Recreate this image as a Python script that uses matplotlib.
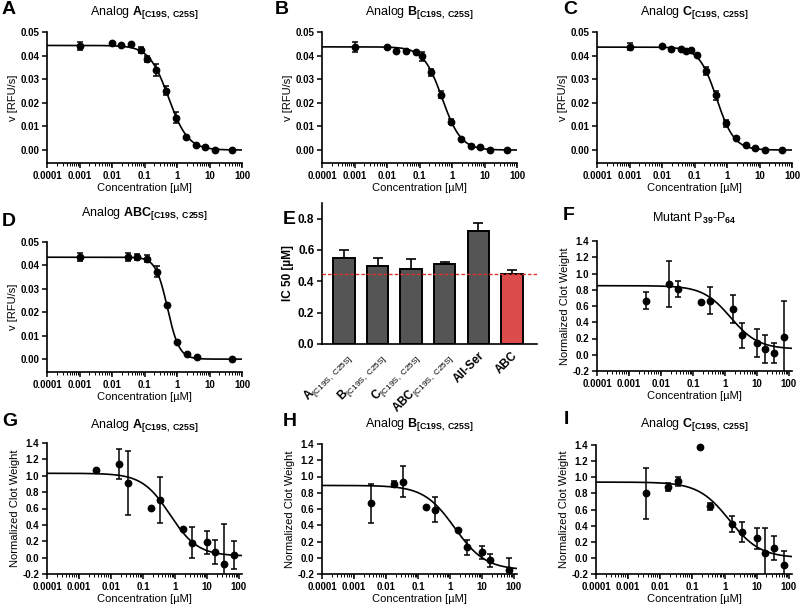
import matplotlib
matplotlib.use('Agg')
import matplotlib.pyplot as plt
import numpy as np

plt.rcParams['font.family'] = ['Liberation Sans', 'DejaVu Sans']
plt.rcParams['mathtext.fontset'] = 'custom'
plt.rcParams['mathtext.rm'] = 'Liberation Sans'
plt.rcParams['mathtext.bf'] = 'Liberation Sans:bold'
plt.rcParams['mathtext.it'] = 'Liberation Sans:italic'

# ---- enzyme assay data (panels A-D) ----
conc_AB = [0.001, 0.0098, 0.0195, 0.039, 0.078, 0.117, 0.234, 0.469, 0.938, 1.875, 3.75, 7.5, 15, 50]
A_v = [0.0442, 0.0452, 0.0443, 0.0448, 0.0425, 0.0385, 0.0338, 0.0252, 0.0137, 0.0055, 0.0020, 0.0011, 0.0, 0.0]
A_err = [0.0017, 0, 0, 0, 0.0012, 0.0012, 0.0025, 0.0018, 0.0022, 0, 0, 0, 0, 0]
B_v = [0.0437, 0.0438, 0.0420, 0.0418, 0.0414, 0.0397, 0.0330, 0.0234, 0.0120, 0.0047, 0.0018, 0.0011, 0.0, 0.0]
B_err = [0.002, 0, 0, 0, 0, 0.002, 0.0015, 0.0015, 0.001, 0, 0, 0, 0, 0]
conc_C = [0.001, 0.0098, 0.0195, 0.039, 0.056, 0.078, 0.117, 0.234, 0.469, 0.938, 1.875, 3.75, 7.5, 15, 50]
C_v = [0.0438, 0.0439, 0.0429, 0.0429, 0.0418, 0.0424, 0.0404, 0.0334, 0.0231, 0.0113, 0.0050, 0.0020, 0.0007, 0.0001, 0.0]
C_err = [0.0015, 0, 0, 0, 0, 0, 0, 0.0018, 0.0018, 0.0015, 0, 0, 0, 0, 0]
conc_D = [0.001, 0.03, 0.059, 0.12, 0.245, 0.5, 1.0, 2.0, 4.0, 50]
D_v = [0.0436, 0.0436, 0.0436, 0.0429, 0.0374, 0.0229, 0.0071, 0.0021, 0.0010, 0.0]
D_err = [0.0015, 0.0015, 0.0013, 0.0015, 0.0025, 0, 0, 0, 0, 0]

# fit parameters (top, bottom, IC50, hill)
fit_A = (0.0443, 0.0, 0.55, 1.45)
fit_B = (0.0437, 0.0, 0.50, 1.5)
fit_C = (0.0436, 0.0, 0.48, 1.6)
fit_D = (0.0435, 0.0, 0.51, 2.4)

# ---- IC50 bar chart (panel E) ----
E_labels = [r'$\mathbf{A}_{\mathrm{[C19S,\ C25S]}}$', r'$\mathbf{B}_{\mathrm{[C19S,\ C25S]}}$',
            r'$\mathbf{C}_{\mathrm{[C19S,\ C25S]}}$', r'$\mathbf{ABC}_{\mathrm{[C19S,\ C25S]}}$',
            'All-Ser', 'ABC']
E_ic50 = [0.55, 0.50, 0.48, 0.51, 0.72, 0.45]
E_err = [0.05, 0.05, 0.06, 0.015, 0.05, 0.025]
E_colors = ['#555555'] * 5 + ['#dc4c4c']
E_ref = 0.45

# ---- clot weight data (panels F-I) ----
conc_clot = [0.0035, 0.0175, 0.035, 0.175, 0.35, 1.75, 3.5, 10, 17.5, 35, 70]
F_w = [0.667, 0.875, 0.81, 0.655, 0.667, 0.565, 0.237, 0.143, 0.074, 0.02, 0.217]
F_err = [0.11, 0.285, 0.095, 0, 0.17, 0.175, 0.155, 0.175, 0.17, 0.12, 0.44]
G_w = [1.07, 1.143, 0.914, 0.604, 0.706, 0.355, 0.184, 0.19, 0.069, -0.073, 0.029]
G_err = [0, 0.18, 0.39, 0, 0.28, 0, 0.19, 0.14, 0.15, 0.48, 0.17]
conc_H = [0.0035, 0.0175, 0.035, 0.175, 0.35, 1.75, 3.5, 10, 17.5, 70]
H_w = [0.672, 0.91, 0.934, 0.627, 0.59, 0.336, 0.127, 0.07, -0.033, -0.148]
H_err = [0.24, 0.035, 0.19, 0, 0.155, 0, 0.095, 0.08, 0.08, 0.14]
I_w = [0.80, 0.88, 0.95, 1.38, 0.64, 0.415, 0.32, 0.245, 0.066, 0.124, -0.09]
I_err = [0.32, 0.045, 0.055, 0, 0.04, 0.1, 0.125, 0.13, 0.3, 0.15, 0.17]

fit_F = (0.85, 0.07, 1.5, 1.0)
fit_G = (1.03, 0.02, 0.7, 1.0)
fit_H = (0.89, -0.15, 1.4, 0.9)
fit_I = (0.94, 0.0, 1.4, 0.9)

W, H = 800, 606
fig = plt.figure(figsize=(W / 100, H / 100), dpi=100)


def box(l, t, r, b):
    return [l / W, 1 - b / H, (r - l) / W, (b - t) / H]


def style(ax, tick_fs=7):
    for s in ['top', 'right']:
        ax.spines[s].set_visible(False)
    for s in ['left', 'bottom']:
        ax.spines[s].set_linewidth(1.2)
    ax.tick_params(which='major', direction='out', length=3.5, width=1.1, labelsize=tick_fs, pad=2)
    ax.tick_params(which='minor', direction='out', length=1.8, width=0.7)
    for lab in ax.get_xticklabels() + ax.get_yticklabels():
        lab.set_fontweight('bold')


def dose_panel(ax, conc, vals, err, fit, xmax, ylim, yticks, yfmt, ylabel):
    conc = np.array(conc)
    vals = np.array(vals)
    err = np.array(err)
    xs = np.logspace(-4, np.log10(xmax), 300)
    top, bot, ic50, hill = fit
    ax.plot(xs, bot + (top - bot) / (1 + (xs / ic50) ** hill), color='black', lw=1.2)
    m = err > 0
    ax.errorbar(conc[m], vals[m], yerr=err[m], fmt='none', ecolor='black', elinewidth=1.1,
                capsize=2.4, capthick=1.1)
    ax.plot(conc, vals, 'o', color='black', ms=4.6, clip_on=False)
    ax.set_xscale('log')
    ax.set_xlim(1e-4, xmax)
    ax.set_ylim(*ylim)
    ax.set_xticks([1e-4, 1e-3, 1e-2, 1e-1, 1, 10, 100])
    ax.set_xticklabels(['0.0001', '0.001', '0.01', '0.1', '1', '10', '100'])
    ax.xaxis.set_minor_locator(matplotlib.ticker.LogLocator(base=10, subs=np.arange(2, 10), numticks=20))
    ax.xaxis.set_minor_formatter(matplotlib.ticker.NullFormatter())
    ax.set_yticks(yticks)
    ax.set_yticklabels([yfmt.format(t) for t in yticks])
    ax.set_xlabel('Concentration [µM]', fontsize=8, labelpad=1.5)
    ax.set_ylabel(ylabel, fontsize=8, labelpad=2)
    style(ax)


enz_ylim = (-0.0055, 0.05)
enz_ticks = [0.0, 0.01, 0.02, 0.03, 0.04, 0.05]
clot_ylim = (-0.2, 1.4)
clot_ticks = [-0.2, 0.0, 0.2, 0.4, 0.6, 0.8, 1.0, 1.2, 1.4]

axA = fig.add_axes(box(47, 32, 242, 163))
dose_panel(axA, conc_AB, A_v, A_err, fit_A, 100, enz_ylim, enz_ticks, '{:.2f}', 'v [RFU/s]')
axB = fig.add_axes(box(322, 32, 517, 163))
dose_panel(axB, conc_AB, B_v, B_err, fit_B, 100, enz_ylim, enz_ticks, '{:.2f}', 'v [RFU/s]')
axC = fig.add_axes(box(597, 32, 792, 163))
dose_panel(axC, conc_C, C_v, C_err, fit_C, 100, enz_ylim, enz_ticks, '{:.2f}', 'v [RFU/s]')
axD = fig.add_axes(box(47, 242, 242, 372))
dose_panel(axD, conc_D, D_v, D_err, fit_D, 100, enz_ylim, enz_ticks, '{:.2f}', 'v [RFU/s]')

axF = fig.add_axes(box(597, 241, 792, 371))
dose_panel(axF, conc_clot, F_w, F_err, fit_F, 125, clot_ylim, clot_ticks, '{:.1f}', 'Normalized Clot Weight')
axG = fig.add_axes(box(47, 443, 242, 574))
dose_panel(axG, conc_clot, G_w, G_err, fit_G, 125, clot_ylim, clot_ticks, '{:.1f}', 'Normalized Clot Weight')
axH = fig.add_axes(box(322, 444, 517, 574))
dose_panel(axH, conc_H, H_w, H_err, fit_H, 125, clot_ylim, clot_ticks, '{:.1f}', 'Normalized Clot Weight')
axI = fig.add_axes(box(596, 445, 792, 574))
dose_panel(axI, conc_clot, I_w, I_err, fit_I, 125, clot_ylim, clot_ticks, '{:.1f}', 'Normalized Clot Weight')

# panel E
axE = fig.add_axes(box(322, 203, 537, 344))
xpos = np.arange(len(E_labels))
axE.bar(xpos, E_ic50, width=0.64, color=E_colors, edgecolor='black', linewidth=1.4, zorder=2)
axE.errorbar(xpos, E_ic50, yerr=[np.zeros(len(E_err)), E_err], fmt='none', ecolor='black',
             elinewidth=1.2, capsize=3.5, capthick=1.2, zorder=1)
axE.axhline(E_ref, color='#e03030', lw=1.0, ls=(0, (2.5, 1.5)), zorder=3)
axE.set_xlim(-0.66, 5.75)
axE.set_ylim(0, 0.9)
axE.set_yticks([0.0, 0.2, 0.4, 0.6, 0.8])
axE.set_yticklabels(['0.0', '0.2', '0.4', '0.6', '0.8'])
axE.set_xticks(xpos)
axE.set_xticklabels(E_labels, rotation=45, ha='right', rotation_mode='anchor', fontsize=8.5)
axE.set_ylabel('IC 50 [µM]', fontsize=8.5, fontweight='bold', labelpad=3)
style(axE, tick_fs=8.5)
axE.tick_params(axis='x', length=0, pad=4)

# titles
titles = [
    (144.5, 13, r'Analog $\mathbf{A}_{\mathbf{[C19S,\ C25S]}}$'),
    (419.5, 13, r'Analog $\mathbf{B}_{\mathbf{[C19S,\ C25S]}}$'),
    (694.5, 13, r'Analog $\mathbf{C}_{\mathbf{[C19S,\ C25S]}}$'),
    (144.5, 214, r'Analog $\mathbf{ABC}_{\mathbf{[C19S,\ C25S]}}$'),
    (694.5, 218, r'Mutant P$_{\mathbf{39}}$-P$_{\mathbf{64}}$'),
    (144.5, 425, r'Analog $\mathbf{A}_{\mathbf{[C19S,\ C25S]}}$'),
    (419.5, 424, r'Analog $\mathbf{B}_{\mathbf{[C19S,\ C25S]}}$'),
    (694.5, 424, r'Analog $\mathbf{C}_{\mathbf{[C19S,\ C25S]}}$'),
]
for x, y, t in titles:
    fig.text(x / W, 1 - y / H, t, ha='center', va='center', fontsize=9)

letters = [('A', 2, 10), ('B', 275, 10), ('C', 563, 10), ('D', 2, 221), ('E', 283, 219),
           ('F', 563, 216), ('G', 2, 422), ('H', 283, 421), ('I', 564, 419)]
for t, x, y in letters:
    fig.text(x / W, 1 - y / H, t, ha='left', va='center', fontsize=14, fontweight='bold')

fig.savefig('out.png', dpi=100)
